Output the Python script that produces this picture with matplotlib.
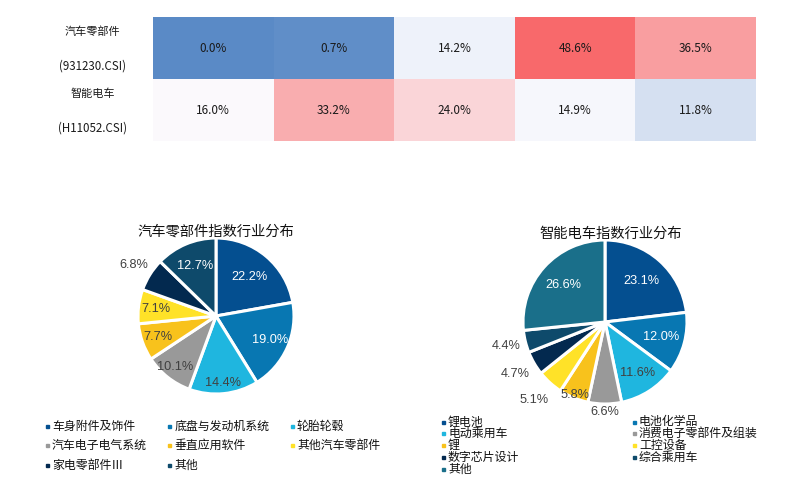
import numpy as np
import matplotlib
matplotlib.use("Agg")
import matplotlib.pyplot as plt
from matplotlib.colors import LinearSegmentedColormap, TwoSlopeNorm
from matplotlib.patches import Rectangle

plt.rcParams['font.family'] = ['Noto Sans CJK SC', 'DejaVu Sans']

# ==========================================
# DATA
# ==========================================
row_names = ['汽车零部件', '智能电车']
row_codes = ['(931230.CSI)', '(H11052.CSI)']
heat_values = np.array([
    [0.0, 0.7, 14.2, 48.6, 36.5],
    [16.0, 33.2, 24.0, 14.9, 11.8],
])

auto_title = '汽车零部件指数行业分布'
auto_labels = ['车身附件及饰件', '底盘与发动机系统', '轮胎轮毂', '汽车电子电气系统',
               '垂直应用软件', '其他汽车零部件', '家电零部件Ⅲ', '其他']
auto_values = [22.2, 19.0, 14.4, 10.1, 7.7, 7.1, 6.8, 12.7]

ev_title = '智能电车指数行业分布'
ev_labels = ['锂电池', '电池化学品', '电动乘用车', '消费电子零部件及组装', '锂',
             '工控设备', '数字芯片设计', '综合乘用车', '其他']
ev_values = [23.1, 12.0, 11.6, 6.6, 5.8, 5.1, 4.7, 4.4, 26.6]

# ==========================================
# STYLE
# ==========================================
W, H = 787, 493
DARK_BLUE = '#044f90'
MID_BLUE = '#0877b2'
CYAN = '#1fb6df'
GREY = '#999999'
ORANGE = '#f8c21c'
YELLOW = '#ffe228'
NAVY = '#03294f'
DARK_TEAL = '#0e4a6b'
TEAL = '#1a6f8a'
TXT = '#404040'

auto_colors = [DARK_BLUE, MID_BLUE, CYAN, GREY, ORANGE, YELLOW, NAVY, DARK_TEAL]
auto_lblcol = ['white', 'white', TXT, TXT, TXT, TXT, TXT, 'white']
auto_lbldist = [0.66, 0.76, 0.86, 0.84, 0.79, 0.78, 1.24, 0.69]

ev_colors = [DARK_BLUE, MID_BLUE, CYAN, GREY, ORANGE, YELLOW, NAVY, DARK_TEAL, TEAL]
ev_lblcol = ['white', 'white', TXT, TXT, TXT, TXT, TXT, TXT, 'white']
ev_lbldist = [0.67, 0.71, 0.74, 1.1, 0.96, 1.29, 1.27, 1.24, 0.68]


def px_axes(fig, left, top, width, height):
    return fig.add_axes([left / W, 1 - (top + height) / H, width / W, height / H])


fig = plt.figure(figsize=(W / 100, H / 100), dpi=100)

# ---------- heatmap ----------
ax = px_axes(fig, 153, 17, 603, 124)
cmap = LinearSegmentedColormap.from_list('excel3', ['#5a8ac6', '#fcfcff', '#f8696b'])
norm = TwoSlopeNorm(vmin=heat_values.min(), vcenter=np.median(heat_values),
                    vmax=heat_values.max())
ax.imshow(heat_values, cmap=cmap, norm=norm, aspect='auto')
for i in range(heat_values.shape[0]):
    for j in range(heat_values.shape[1]):
        ax.text(j, i, f'{heat_values[i, j]:.1f}%', ha='center', va='center',
                fontsize=8.5, color='#1a1a1a')
    ax.text(-1.0, i - 0.26, row_names[i], ha='center', va='center', fontsize=8,
            color='#1a1a1a')
    ax.text(-1.0, i + 0.29, row_codes[i], ha='center', va='center', fontsize=8.3,
            color='#1a1a1a')
ax.set_xticks([])
ax.set_yticks([])
for s in ax.spines.values():
    s.set_visible(False)


# ---------- pies ----------
def draw_pie(cx, cy, r, values, colors, lblcol, lbldist, title, tx, ty):
    box = 110
    pax = px_axes(fig, cx - box, cy - box, 2 * box, 2 * box)
    wedges, _ = pax.pie(values, colors=colors, startangle=90, counterclock=False,
                        wedgeprops=dict(edgecolor='white', linewidth=2.2))
    lim = box / r
    pax.set_xlim(-lim, lim)
    pax.set_ylim(-lim, lim)
    pax.set_aspect('equal')
    pax.axis('off')
    for w, v, c, d in zip(wedges, values, lblcol, lbldist):
        ang = np.deg2rad((w.theta1 + w.theta2) / 2)
        pax.text(d * np.cos(ang), d * np.sin(ang), f'{v:.1f}%', ha='center',
                 va='center', fontsize=9.2, color=c,
                 family=['Liberation Sans', 'DejaVu Sans'])
    fig.text(tx / W, 1 - ty / H, title, ha='center', va='center', fontsize=10.3,
             color='#111111')


draw_pie(216, 316, 78, auto_values, auto_colors, auto_lblcol, auto_lbldist,
         auto_title, 216, 232)
draw_pie(605, 322, 82, ev_values, ev_colors, ev_lblcol, ev_lbldist,
         ev_title, 611, 234)


# ---------- legends ----------
def draw_legend(labels, colors, x0, y0, dx, dy, ncol):
    for k, (lab, col) in enumerate(zip(labels, colors)):
        x = x0 + (k % ncol) * dx
        y = y0 + (k // ncol) * dy
        fig.patches.append(Rectangle(((x - 1.5) / W, 1 - (y + 1.5) / H), 3 / W, 3 / H,
                                     transform=fig.transFigure, color=col))
        fig.text((x + 5) / W, 1 - y / H, lab, ha='left', va='center', fontsize=8.6,
                 color='#111111')


draw_legend(auto_labels, auto_colors, 47, 426, 122.5, 19.5, 3)
draw_legend(ev_labels, ev_colors, 443, 422, 191, 11.8, 2)

plt.savefig('out.png', dpi=100)
